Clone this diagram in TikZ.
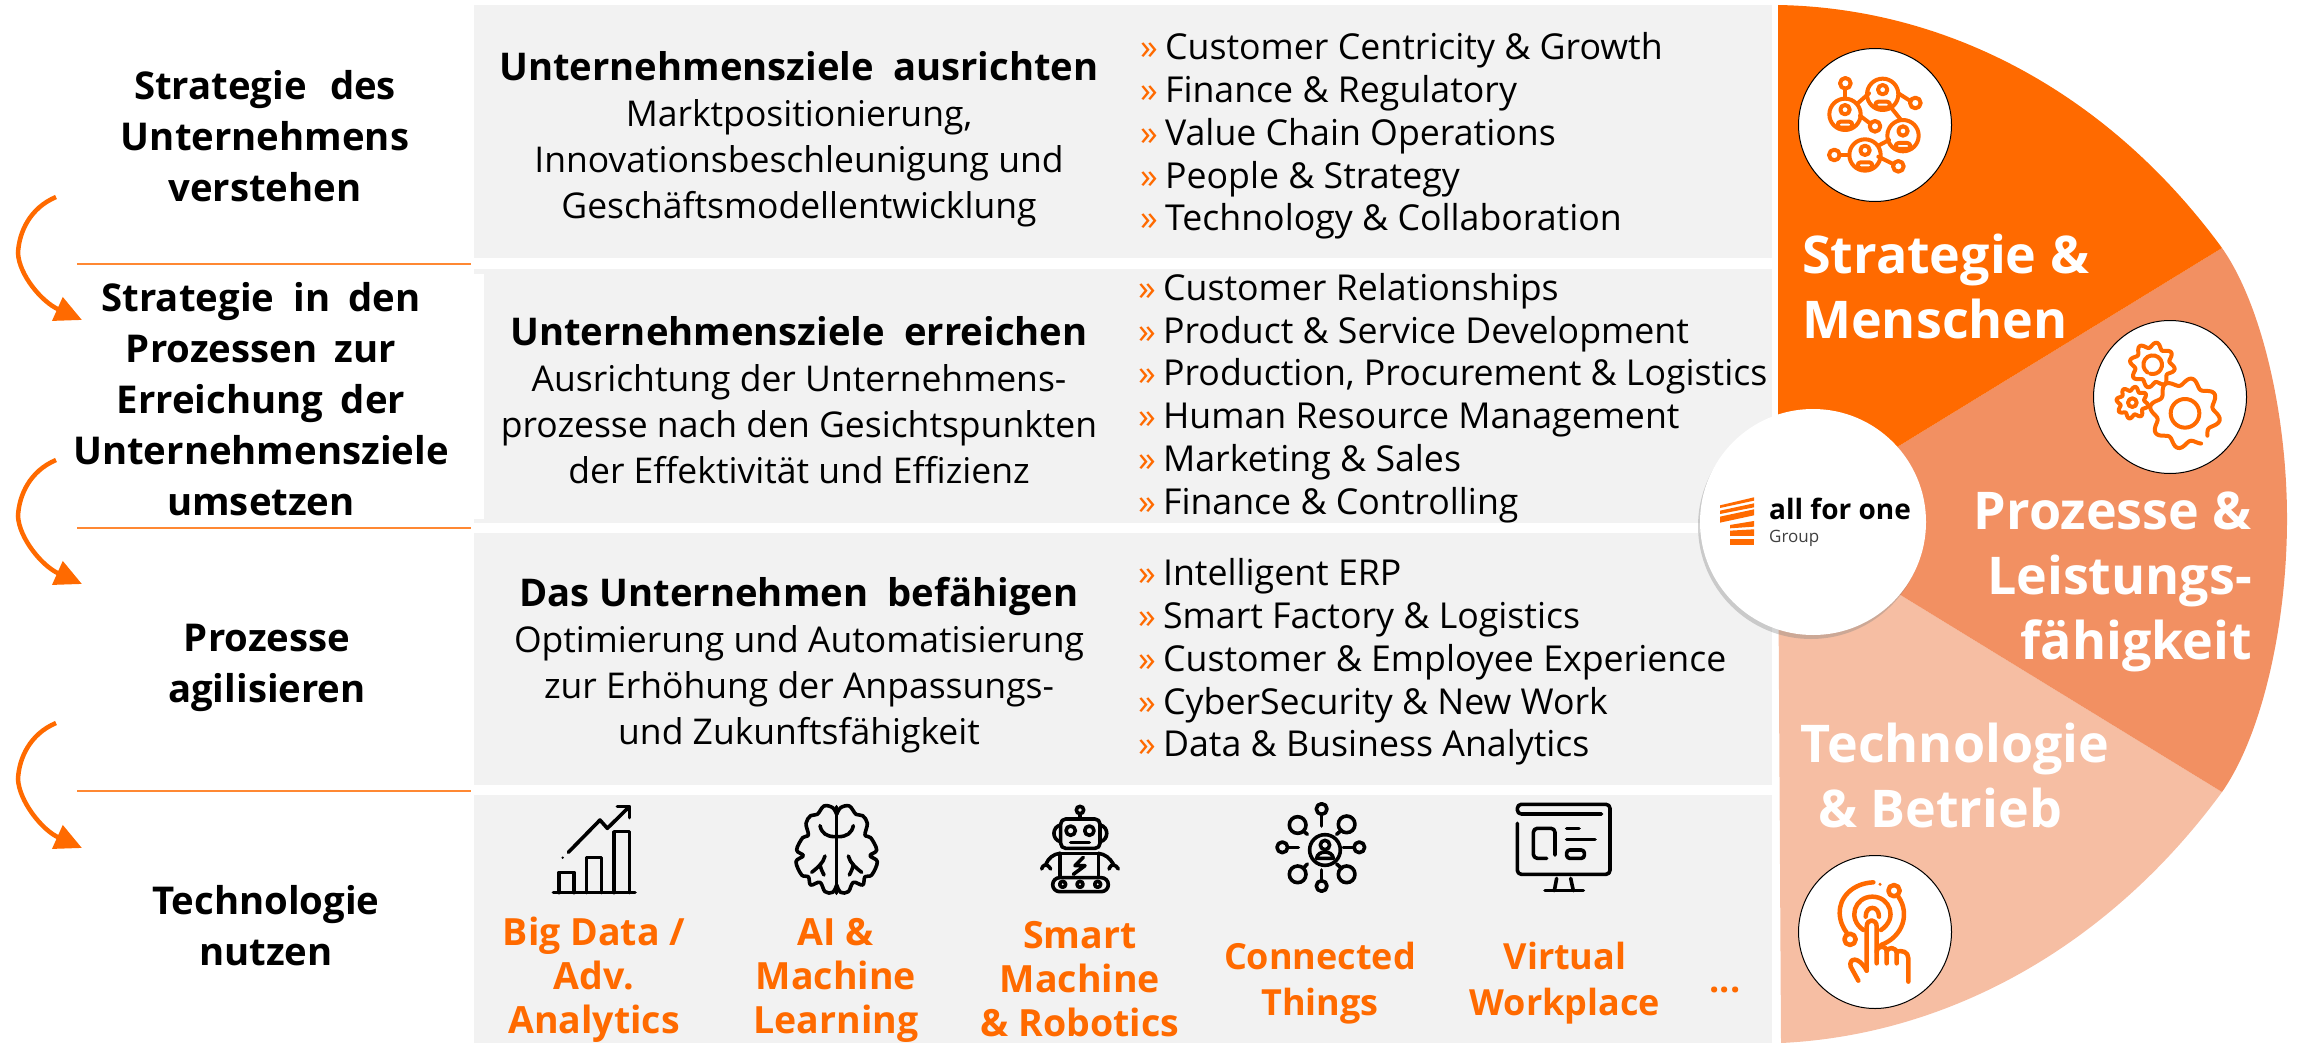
\documentclass[tikz,border=0pt]{standalone}
\usepackage{fontspec}
\setmainfont{Open Sans}
\usetikzlibrary{arrows.meta,shadows}
\definecolor{afoorange}{HTML}{FF6A00}
\definecolor{afomid}{HTML}{F29062}
\definecolor{afolight}{HTML}{F6BEA3}
\definecolor{panelgray}{HTML}{F2F2F2}
\tikzset{
  steplabel/.style={font=\fontsize{38.3}{51}\selectfont\bfseries,align=center},
  goallabel/.style={font=\fontsize{35.5}{46}\selectfont,align=center},
  topiclist/.style={font=\fontsize{35.7}{42.8}\selectfont,align=left,anchor=west,inner sep=0pt},
  wedgelabel/.style={font=\fontsize{52}{65}\selectfont\bfseries,text=white,inner sep=0pt},
  techlabel/.style={font=\fontsize{37.5}{44}\selectfont\bfseries,text=afoorange,align=center,inner sep=0pt},
  techsmall/.style={techlabel,font=\fontsize{36}{46}\selectfont\bfseries},
  badge/.style={circle,draw=black,line width=1pt,fill=white,minimum size=153pt},
  divider/.style={afoorange!80,line width=1.5pt},
  turnarrow/.style={afoorange,line width=4.5pt,-{Triangle[length=27pt,width=25pt]}},
  zoomed/.style 2 args={shift={(#1,#2)},x=.3333pt,y=-.3333pt},
  iconline/.style={line width=3.6pt,line cap=round,line join=round},
}
\newcommand{\bul}{{\color{afoorange}»}\hspace{.2em}}
\newcommand{\goalhead}[1]{{\bfseries\fontsize{38.2}{46}\selectfont #1}}
\begin{document}
\begin{tikzpicture}[x=1pt,y=-1pt]
\useasboundingbox (0,0) rectangle (2298,1043);
% panels
\fill[panelgray] (474,5) rectangle (1772,258);
\fill[panelgray] (474,269) rectangle (1772,523);
\fill[white] (474,274) rectangle (484,519);
\fill[panelgray] (474,533) rectangle (1772,785);
\fill[panelgray] (474,795) rectangle (1772,1043);
% half disc
\coordinate (hub) at (1778,520);
\fill[afolight] (hub) -- (2222,792) .. controls (2110,945) and (1950,1035) .. (1781,1043) -- cycle;
\fill[afomid] (hub) -- (2222,248) .. controls (2262,305) and (2287,415) .. (2287,519) .. controls (2287,625) and (2262,735) .. (2222,792) -- cycle;
\fill[afoorange] (hub) -- (1778,5) .. controls (1950,8) and (2110,95) .. (2222,248) -- cycle;
% left column
\node[steplabel] (step1) at (265,136) {Strategie\hspace{.35em} des\\Unternehmens\\verstehen};
\node[steplabel] (step2) at (261,399) {Strategie\hspace{.25em} in\hspace{.2em} den\\Prozessen\hspace{.2em} zur\\Erreichung\hspace{.2em} der\\Unternehmensziele\\umsetzen};
\node[steplabel] (step3) at (267,668) {Prozesse\\agilisieren};
\node[steplabel] (step4) at (266,926) {Technologie\\nutzen};
\coordinate (rule1a) at (77,264);
\coordinate (rule1b) at (471,264);
\coordinate (rule2a) at (77,528);
\coordinate (rule2b) at (471,528);
\coordinate (rule3a) at (77,791);
\coordinate (rule3b) at (471,791);
\draw[divider] (rule1a) -- (rule1b);
\draw[divider] (rule2a) -- (rule2b);
\draw[divider] (rule3a) -- (rule3b);
\coordinate (turn1a) at (56,197);
\coordinate (turn1b) at (82,320);
\coordinate (turn2a) at (56,460);
\coordinate (turn2b) at (82,584);
\coordinate (turn3a) at (56,723);
\coordinate (turn3b) at (82,848);
\draw[turnarrow] (turn1a) .. controls (30,208) and (19,232) .. ++(-38,56) .. controls (19,275) and (42,302) .. (turn1b);
\draw[turnarrow] (turn2a) .. controls (30,471) and (19,495) .. ++(-38,56) .. controls (19,538) and (42,566) .. (turn2b);
\draw[turnarrow] (turn3a) .. controls (30,734) and (19,758) .. ++(-38,56) .. controls (19,801) and (42,830) .. (turn3b);
% middle column
\node[goallabel] (goal1) at (799,139) {\goalhead{Unternehmensziele\hspace{.25em} ausrichten}\\Marktpositionierung,\\Innovationsbeschleunigung und\\Geschäftsmodellentwicklung};
\node[goallabel] (goal2) at (799,400) {\goalhead{Unternehmensziele\hspace{.25em} erreichen}\\Ausrichtung der Unternehmens-\\prozesse nach den Gesichtspunkten\\der Effektivität und Effizienz};
\node[goallabel] (goal3) at (799,665) {\goalhead{Das Unternehmen\hspace{.25em} befähigen}\\Optimierung und Automatisierung\\zur Erhöhung der Anpassungs-\\und Zukunftsfähigkeit};
\node[topiclist] (list1) at (1140,136) {\bul Customer Centricity \& Growth\\\bul Finance \& Regulatory\\\bul Value Chain Operations\\\bul People \& Strategy\\\bul Technology \& Collaboration};
\node[topiclist] (list2) at (1138,398) {\bul Customer Relationships\\\bul Product \& Service Development\\\bul Production, Procurement \& Logistics\\\bul Human Resource Management\\\bul Marketing \& Sales\\\bul Finance \& Controlling};
\node[topiclist] (list3) at (1138,662) {\bul Intelligent ERP\\\bul Smart Factory \& Logistics\\\bul Customer \& Employee Experience\\\bul CyberSecurity \& New Work\\\bul Data \& Business Analytics};
% technology row
\node[techlabel] (tech1) at (594,980) {Big Data /\\Adv.\\Analytics};
\node[techlabel] (tech2) at (836,980) {AI \&\\Machine\\Learning};
\node[techlabel] (tech3) at (1080,979) {Smart\\Machine\\\& Robotics};
\node[techsmall] (tech4) at (1320,983) {Connected\\Things};
\node[techsmall] (tech5) at (1565,983) {Virtual\\Workplace};
\node[techsmall] (tech6) at (1725,990) {...};
% chart icon
\begin{scope}[zoomed={540}{795},iconline]
\draw (40,293) -- (285,293);
\draw (57,293) -- (57,232) -- (102,232) -- (102,293);
\draw (140,293) -- (140,187) -- (185,187) -- (185,293);
\draw (222,293) -- (222,110) -- (268,110) -- (268,293);
\draw (85,172) -- (180,75) -- (202,100) -- (268,35);
\draw (232,35) -- (268,35) -- (268,68);
\fill (68,188) circle[radius=4];
\end{scope}
% brain icon
\begin{scope}[zoomed={540}{795},iconline]
\draw (890,35) -- (890,295);
\foreach \s in {1,-1}{
\begin{scope}[xshift=296.67pt,xscale=\s]
\draw plot[smooth,tension=.6] coordinates {(0,58) (-12,38) (-38,33) (-58,58) (-78,62) (-92,85) (-85,120) (-102,128) (-120,165) (-100,182) (-122,200) (-105,240) (-85,245) (-78,270) (-50,262) (-35,290) (-12,292) (0,270)};
\draw (-50,92) .. controls (-45,115) and (-30,125) .. (-5,125);
\draw (-35,183) .. controls (-40,205) and (-60,220) .. (-75,232);
\draw (-50,208) .. controls (-48,222) and (-42,232) .. (-38,240);
\end{scope}}
\end{scope}
% robot icon
\begin{scope}[zoomed={1030}{795},iconline]
\draw[rounded corners=5pt] (92,72) rectangle (210,160);
\draw (92,90) .. controls (65,95) and (65,135) .. (92,140);
\draw (210,90) .. controls (237,95) and (237,135) .. (210,140);
\draw (122,107) circle[radius=14];
\draw (178,107) circle[radius=14];
\draw (122,142) -- (178,142);
\draw (150,45) circle[radius=11];
\draw (150,57) -- (150,72);
\draw (90,175) -- (205,175);
\draw (90,175) -- (90,245);
\draw (205,175) -- (205,245);
\draw (90,175) .. controls (70,177) and (55,190) .. (48,207);
\draw (205,175) .. controls (225,177) and (240,190) .. (250,207);
\draw (35,222) .. controls (37,210) and (50,202) .. (62,222);
\draw (237,222) .. controls (245,202) and (258,210) .. (265,222);
\draw (160,187) -- (135,212) -- (165,212) -- (130,238);
\draw[rounded corners=7pt] (68,248) rectangle (235,290);
\draw (98,268) circle[radius=9];
\draw (150,268) circle[radius=9];
\draw (203,268) circle[radius=9];
\end{scope}
% connected things icon
\begin{scope}[zoomed={1030}{795},iconline]
\draw (885,165) circle[radius=46];
\draw (885,150) circle[radius=14];
\draw (860,190) .. controls (862,165) and (908,165) .. (910,190) -- cycle;
\draw (875,60) -- (875,93);
\draw (875,42) circle[radius=16];
\draw (875,225) -- (875,258);
\draw (875,273) circle[radius=16];
\draw (805,157) -- (775,157);
\draw (757,157) circle[radius=16];
\draw (940,157) -- (972,157);
\draw (988,157) circle[radius=16];
\draw (803,90) circle[radius=25];
\draw (820,108) -- (832,118);
\draw (950,88) circle[radius=25];
\draw (935,105) -- (920,118);
\draw (803,238) circle[radius=25];
\draw (820,220) -- (832,207);
\draw (950,238) circle[radius=25];
\draw (935,220) -- (920,207);
\end{scope}
% workplace icon
\begin{scope}[zoomed={1500}{795},iconline]
\draw[rounded corners=4pt] (52,85) -- (52,238) -- (330,238) -- (330,28) -- (52,28) -- (52,57) -- (305,57);
\draw[rounded corners=4pt] (140,190) -- (100,190) -- (100,100) -- (165,100) -- (165,180);
\draw (200,100) -- (237,100);
\draw (200,133) -- (285,133);
\draw[rounded corners=3pt] (200,165) rectangle (253,190);
\draw (170,250) -- (163,287);
\draw (212,250) -- (220,287);
\draw (135,287) -- (250,287);
\end{scope}
% badges
\node[badge] (people) at (1875,125) {};
\node[badge] (gears) at (2170,397) {};
\node[badge] (touch) at (1875,932) {};
\begin{scope}[zoomed={1795}{45},iconline,afoorange,line width=4pt]
\foreach \cx/\cy in {263/148,150/208,324/272,210/330}{
\draw (\cx,\cy) circle[radius=47];
\draw (\cx,\cy-14) circle[radius=14];
\draw[rounded corners=3pt] (\cx-22,\cy+22) rectangle (\cx+22,\cy+40);
}
\foreach \cx/\cy in {151/115,361/174,240/244,118/330,310/364}{
\draw (\cx,\cy) circle[radius=16];
}
\draw (151,131) -- (151,161);
\draw (188,175) -- (222,145);
\draw (310,145) -- (346,168);
\draw (195,212) -- (226,236);
\draw (290,190) -- (318,225);
\draw (250,302) -- (282,285);
\draw (134,330) -- (163,330);
\draw (250,335) -- (296,358);
\end{scope}
\begin{scope}[zoomed={2090}{320},iconline,afoorange,line width=4pt]
\draw plot[smooth,domain=62:405,samples=130] ({285+95*cos(\x)+11*sin(8*\x)*cos(\x)},{280+95*sin(\x)+11*sin(8*\x)*sin(\x)});
\draw (285,280) circle[radius=43];
\draw plot[smooth,domain=0:360,samples=130] ({187+60*cos(\x)+8*sin(8*\x)*cos(\x)},{135+60*sin(\x)+8*sin(8*\x)*sin(\x)});
\draw (187,135) ++(-15,22) arc[start angle=125,end angle=465,radius=28];
\draw plot[smooth,domain=0:360,samples=130] ({127+42*cos(\x)+6*sin(8*\x)*cos(\x)},{248+42*sin(\x)+6*sin(8*\x)*sin(\x)});
\draw (127,248) circle[radius=13];
\end{scope}
\begin{scope}[zoomed={1795}{850},iconline,afoorange,line width=4.5pt]
\draw (235,97) .. controls (170,100) and (132,145) .. (134,190) .. controls (135,215) and (145,235) .. (155,248);
\draw (310,140) .. controls (345,190) and (325,260) .. (258,285);
\draw (205,240) .. controls (155,205) and (180,140) .. (232,140) .. controls (285,140) and (310,205) .. (258,240);
\draw (212,200) .. controls (212,165) and (252,165) .. (252,200);
\draw (297,122) circle[radius=17];
\draw (165,268) circle[radius=17];
\fill (255,103) circle[radius=5];
\draw (215,362) -- (215,230) .. controls (215,205) and (245,205) .. (245,230) -- (245,340);
\draw (245,305) .. controls (247,285) and (275,285) .. (275,305) -- (275,340);
\draw (275,305) .. controls (277,290) and (305,290) .. (305,310) -- (305,340);
\draw (305,305) .. controls (320,300) and (340,305) .. (340,325) -- (340,395);
\draw (190,392) -- (167,350) .. controls (160,325) and (190,315) .. (215,362);
\end{scope}
% logo
\node[circle,fill=white,minimum size=226pt,inner sep=0pt,drop shadow={shadow xshift=-2pt,shadow yshift=-4pt,opacity=.35}] (logo) at (1813,522) {};
\node[font=\fontsize{28}{28}\selectfont\bfseries,anchor=west,inner sep=0pt] (logoname) at (1769,509) {all for one};
\node[font=\fontsize{17}{17}\selectfont,anchor=west,inner sep=0pt,text=black!75] (logogroup) at (1769,538) {Group};
\begin{scope}[zoomed={1690}{400},afoorange]
\fill (90,316) -- (192,292) -- (192,302) -- (90,324) -- cycle;
\fill (90,332) -- (192,310) -- (192,322) -- (90,342) -- cycle;
\fill (90,350) -- (192,328) -- (192,346) -- (90,368) -- cycle;
\fill (120,375) -- (192,363) -- (192,380) -- (120,385) -- cycle;
\fill (120,392) -- (192,388) -- (192,408) -- (120,408) -- cycle;
\fill (120,418) -- (192,418) -- (192,435) -- (120,435) -- cycle;
\end{scope}
% wedge labels
\node[wedgelabel,anchor=west,align=left] (wedge1) at (1802,286) {Strategie \&\\Menschen};
\node[wedgelabel,align=right,anchor=east] (wedge2) at (2252,582) {Prozesse \&\\Leistungs-\\fähigkeit};
\node[wedgelabel,align=center] (wedge3) at (1955,775) {Technologie\\\& Betrieb\hspace*{30pt}};
\end{tikzpicture}
\end{document}
